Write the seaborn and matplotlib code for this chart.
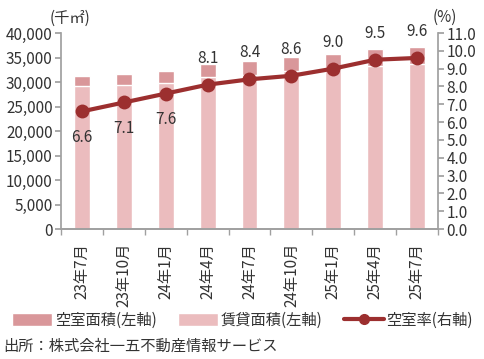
import pandas as pd
import matplotlib.pyplot as plt
import seaborn as sns
import numpy as np
from matplotlib.lines import Line2D
from matplotlib.patches import Patch

months = ["23年7月", "23年10月", "24年1月", "24年4月", "24年7月",
          "24年10月", "25年1月", "25年4月", "25年7月"]
rented = [29160, 29390, 29850, 30950, 31450, 32150, 32440, 33190, 33630]
vacant = [2060, 2250, 2450, 2720, 2890, 3020, 3210, 3480, 3570]
rate = [6.6, 7.1, 7.6, 8.1, 8.4, 8.6, 9.0, 9.5, 9.6]

sns.set_theme(style="white")
plt.rcParams["font.family"] = ["Noto Sans CJK JP", "DejaVu Sans"]

c_vac = "#d9979a"
c_rent = "#ebbcbe"
c_line = "#9c2f2f"
c_axis = "#a0a0a0"
c_text = "#333333"
fs = 11

df = pd.DataFrame({"month": months, "rented": rented, "vacant": vacant, "rate": rate})
df["total"] = df["rented"] + df["vacant"]

fig = plt.figure(figsize=(4.85, 3.59), dpi=100)
ax = fig.add_axes([61 / 485, 1 - 229 / 359, 377 / 485, 196 / 359])

# total first (vacant color), rented on top of it -> vacant shows as the top segment
sns.barplot(data=df, x="month", y="total", color=c_vac, width=0.38,
            saturation=1, ax=ax)
sns.barplot(data=df, x="month", y="rented", color=c_rent, width=0.38,
            saturation=1, ax=ax)

ax.set_ylim(0, 40000)
ax.set_xlim(-0.5, len(months) - 0.5)
ax.set_yticks(np.arange(0, 40001, 5000))
ax.set_yticklabels([f"{v:,}" for v in range(0, 40001, 5000)])
ax.set_xlabel("")
ax.set_ylabel("")
ax.set_xticks(range(len(months)))
ax.set_xticklabels(months, rotation=90, va="top")
ax.set_xticks(np.arange(-0.5, len(months), 1), minor=True)
ax.tick_params(axis="x", which="major", length=0, pad=10, labelsize=fs, colors=c_text)
ax.tick_params(axis="x", which="minor", length=4, color=c_axis, direction="out", bottom=True)
ax.tick_params(axis="y", length=4, color=c_axis, direction="out", left=True,
               labelsize=fs, labelcolor=c_text, pad=2)

ax2 = ax.twinx()
sns.lineplot(x=np.arange(len(months)), y=rate, color=c_line, linewidth=3,
             marker="o", markersize=10, markeredgewidth=0, ax=ax2)
ax2.set_ylim(0, 11)
ax2.set_yticks(np.arange(0, 11.01, 1))
ax2.set_yticklabels([f"{v:.1f}" for v in np.arange(0, 11.01, 1)])
ax2.tick_params(axis="y", length=4, color=c_axis, direction="out", right=True,
                labelsize=fs, labelcolor=c_text, pad=2)

for i, r in enumerate(rate):
    off = -19 if i < 3 else 19
    ax2.annotate(f"{r:.1f}", (i, r), xytext=(0, off), textcoords="offset points",
                 ha="center", va="center", fontsize=fs, color=c_text)

for a in (ax, ax2):
    for s in a.spines.values():
        s.set_visible(False)
    a.spines["bottom"].set_visible(True)
    a.spines["bottom"].set_color(c_axis)
ax.spines["left"].set_visible(True)
ax.spines["left"].set_color(c_axis)
ax2.spines["right"].set_visible(True)
ax2.spines["right"].set_color(c_axis)
ax.grid(False)
ax2.grid(False)

fig.text(50 / 485, 1 - 18 / 359, "(千㎡)", fontsize=fs, color=c_text, va="center")
fig.text(433 / 485, 1 - 17 / 359, "(%)", fontsize=fs, color=c_text, va="center")

handles = [
    Patch(facecolor=c_vac, label="空室面積(左軸)"),
    Patch(facecolor=c_rent, label="賃貸面積(左軸)"),
    Line2D([0], [0], color=c_line, linewidth=3, marker="o", markersize=7,
           label="空室率(右軸)"),
]
fig.legend(handles=handles, loc="center", bbox_to_anchor=(0.5, 1 - 320 / 359),
           ncol=3, frameon=False, fontsize=fs, handlelength=2.6, handleheight=0.9,
           handletextpad=0.2, columnspacing=1.4, labelcolor=c_text)

fig.text(3 / 485, 1 - 346 / 359, "出所：株式会社一五不動産情報サービス",
         fontsize=fs, color=c_text, va="center")

fig.savefig("out.png", dpi=100)
